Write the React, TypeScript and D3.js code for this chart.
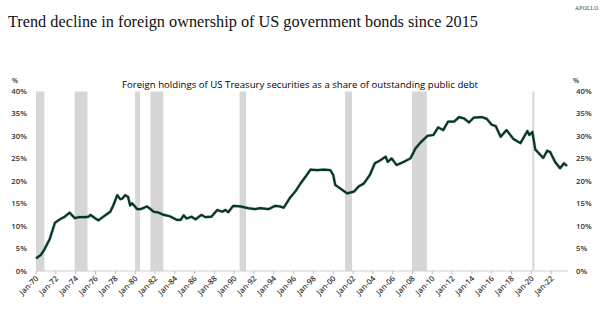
import React from "react";
import * as d3 from "d3";

const dates = [1970.0, 1970.5, 1970.9, 1971.4, 1971.9, 1972.4, 1972.9, 1973.4, 1973.9, 1974.4, 1975.0, 1975.3, 1975.5, 1976.0, 1976.3, 1976.8, 1977.5, 1977.8, 1978.2, 1978.5, 1978.7, 1979.0, 1979.3, 1979.5, 1979.7, 1980.2, 1980.6, 1981.2, 1981.9, 1982.4, 1982.9, 1983.5, 1984.2, 1984.6, 1984.9, 1985.2, 1985.7, 1986.1, 1986.7, 1987.1, 1987.7, 1988.3, 1988.8, 1989.1, 1989.4, 1989.9, 1990.6, 1991.4, 1992.1, 1992.6, 1993.5, 1994.1, 1994.6, 1995.0, 1995.6, 1996.2, 1996.7, 1997.2, 1997.7, 1998.4, 1999.0, 1999.7, 2000.0, 2000.2, 2000.7, 2001.4, 2002.1, 2002.6, 2003.1, 2003.7, 2004.2, 2004.7, 2005.3, 2005.5, 2005.9, 2006.4, 2007.1, 2007.8, 2008.3, 2008.8, 2009.5, 2010.1, 2010.6, 2011.1, 2011.6, 2012.2, 2012.7, 2013.2, 2013.7, 2014.2, 2015.0, 2015.5, 2016.0, 2016.4, 2016.9, 2017.5, 2018.2, 2018.9, 2019.6, 2019.8, 2020.1, 2020.4, 2021.2, 2021.6, 2021.9, 2022.4, 2022.9, 2023.3, 2023.6];
const shares = [2.8, 3.6, 5.0, 7.2, 10.7, 11.5, 12.1, 13.0, 11.8, 12.0, 12.0, 12.1, 12.5, 11.7, 11.3, 12.1, 13.2, 14.6, 16.9, 16.0, 16.1, 16.9, 16.5, 14.6, 15.1, 13.8, 13.8, 14.4, 13.2, 13.0, 12.5, 12.2, 11.4, 11.4, 12.4, 11.7, 12.1, 11.5, 12.5, 12.0, 12.1, 13.6, 13.2, 13.6, 13.1, 14.5, 14.4, 14.0, 13.8, 14.0, 13.8, 14.5, 14.4, 14.1, 16.2, 17.8, 19.5, 21.0, 22.6, 22.5, 22.6, 22.5, 21.4, 19.2, 18.4, 17.3, 17.7, 18.9, 19.5, 21.4, 24.0, 24.6, 25.5, 24.3, 25.1, 23.6, 24.3, 25.1, 27.3, 28.6, 30.1, 30.3, 32.0, 31.4, 33.3, 33.3, 34.3, 34.0, 33.1, 34.2, 34.3, 33.9, 32.6, 32.3, 29.9, 31.4, 29.4, 28.5, 31.2, 30.3, 31.0, 27.1, 25.2, 26.8, 26.5, 24.3, 22.9, 24.0, 23.4];

const recessions = [
  [1970.0, 1970.85],
  [1973.9, 1975.2],
  [1980.0, 1980.5],
  [1981.55, 1982.85],
  [1990.55, 1991.2],
  [2001.2, 2001.9],
  [2007.95, 2009.45],
  [2020.1, 2020.3],
];

const xTickYears = d3.range(1970, 2023, 2);
const yTicks = [0, 5, 10, 15, 20, 25, 30, 35, 40];

const title = "Trend decline in foreign ownership of US government bonds since 2015";
const subtitle = "Foreign holdings of US Treasury securities as a share of outstanding public debt";

export default function App() {
  const W = 600, H = 332;
  const x = d3.scaleLinear().domain([1970, 2023.7]).range([36, 568]);
  const y = d3.scaleLinear().domain([0, 40]).range([271, 91.5]);
  const line = d3
    .line<number>()
    .x((_, i) => x(dates[i]))
    .y((d) => y(d))
    .curve(d3.curveLinear);
  const sans = "'Open Sans', 'Noto Sans', sans-serif";
  return (
    <svg width={W} height={H} style={{ position: "absolute", left: 0, top: 0, background: "#fff" }}>
      <text x={575} y={10} fontFamily="'Liberation Serif', serif" fontSize={5.5} fill="#333" letterSpacing={0.3}>APOLLO</text>
      <text x={8} y={27} fontFamily="'Liberation Serif', serif" fontSize={16.5} fill="#111" textLength={470} lengthAdjust="spacingAndGlyphs">{title}</text>
      <text x={122} y={88} fontFamily={sans} fontSize={9.5} fontWeight={500} fill="#000" textLength={356} lengthAdjust="spacingAndGlyphs">{subtitle}</text>
      <text x={12} y={83} fontFamily={sans} fontSize={7} fontWeight={600} fill="#333">%</text>
      <text x={573} y={83} fontFamily={sans} fontSize={7} fontWeight={600} fill="#333">%</text>
      {recessions.map(([a, b], i) => (
        <rect key={i} x={x(a)} y={y(40)} width={Math.max(2, x(b) - x(a))} height={y(0) - y(40)} fill="#d6d6d6" />
      ))}
      <line x1={36} x2={568} y1={y(0)} y2={y(0)} stroke="#cfcfcf" strokeWidth={1} />
      {xTickYears.map((yr) => (
        <g key={yr}>
          <line x1={x(yr)} x2={x(yr)} y1={y(0)} y2={y(0) + 3} stroke="#bdbdbd" strokeWidth={1} />
          <text
            transform={`translate(${x(yr) + 3},${y(0) + 8}) rotate(-45)`}
            textAnchor="end"
            fontFamily={sans}
            fontSize={7.8}
            fontWeight={600}
            fill="#333"
          >
            {"Jan-" + String(yr % 100).padStart(2, "0")}
          </text>
        </g>
      ))}
      {yTicks.map((t) => (
        <g key={t}>
          <text x={27} y={y(t) + 2.5} textAnchor="end" fontFamily={sans} fontSize={7.8} fontWeight={600} fill="#333">{t + "%"}</text>
          <text x={576} y={y(t) + 2.5} textAnchor="start" fontFamily={sans} fontSize={7.8} fontWeight={600} fill="#333">{t + "%"}</text>
        </g>
      ))}
      <path d={line(shares) || ""} fill="none" stroke="#2f8f6a" strokeOpacity={0.35} strokeWidth={3.2} strokeLinejoin="round" />
      <path d={line(shares) || ""} fill="none" stroke="#0b3326" strokeWidth={2.2} strokeLinejoin="round" />
    </svg>
  );
}
